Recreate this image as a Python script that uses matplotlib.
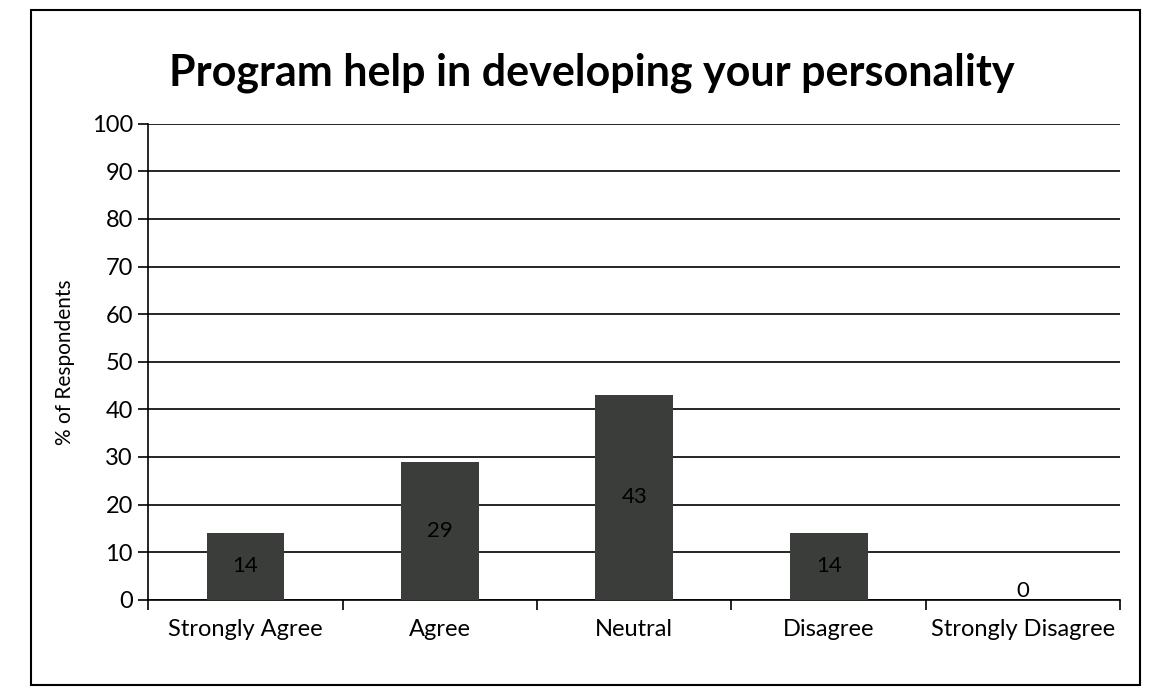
import numpy as np
import matplotlib.pyplot as plt
from matplotlib.patches import Rectangle

# datos del grafico
categorias = ['Strongly Agree', 'Agree', 'Neutral', 'Disagree', 'Strongly Disagree']
porcentajes = [14, 29, 43, 14, 0]
etiquetas = ['14', '29', '43', '14', '0']

plt.rcParams['font.family'] = ['Lato', 'DejaVu Sans']

fig = plt.figure(figsize=(11.49, 6.95), dpi=100)
ax = fig.add_axes([0.129, 0.137, 0.846, 0.685])

x = np.arange(len(categorias))
ax.bar(x, porcentajes, width=0.4, color='#3b3d3b', zorder=3)

# etiquetas de datos en el centro de la barra
for xi, v, t in zip(x, porcentajes, etiquetas):
    ypos = v / 2 if v > 0 else 1.8
    ax.text(xi, ypos, t, ha='center', va='center', fontsize=16, color='black', zorder=4)

ax.set_xlim(-0.5, len(categorias) - 0.5)
ax.set_ylim(0, 100)
ax.set_yticks(np.arange(0, 101, 10))
ax.yaxis.grid(True, color='black', linewidth=1.2, zorder=0)
ax.set_axisbelow(True)

# ticks del eje x en los limites de las categorias
ax.set_xticks(np.arange(-0.5, len(categorias)), minor=False)
ax.set_xticklabels([])
ax.set_xticks(x, minor=True)
ax.set_xticklabels(categorias, minor=True, fontsize=17)
ax.tick_params(axis='x', which='minor', length=0, pad=14)
ax.tick_params(axis='x', which='major', length=7, width=1.2, direction='out')
ax.tick_params(axis='y', length=7, width=1.2, direction='out', labelsize=17, pad=4)

for s in ['top', 'right']:
    ax.spines[s].set_visible(False)
ax.spines['left'].set_linewidth(1.2)
ax.spines['bottom'].set_linewidth(1.2)

ax.set_ylabel('% of Respondents', fontsize=15, labelpad=12)
fig.text(0.515, 0.895, 'Program help in developing your personality', ha='center', va='center',
         fontsize=31, fontweight='bold')

# marco del area del grafico
fig.patches.append(Rectangle((0.027, 0.015), 0.965, 0.97, transform=fig.transFigure,
                             fill=False, edgecolor='black', linewidth=1.5))

fig.savefig('out.png', dpi=100)
